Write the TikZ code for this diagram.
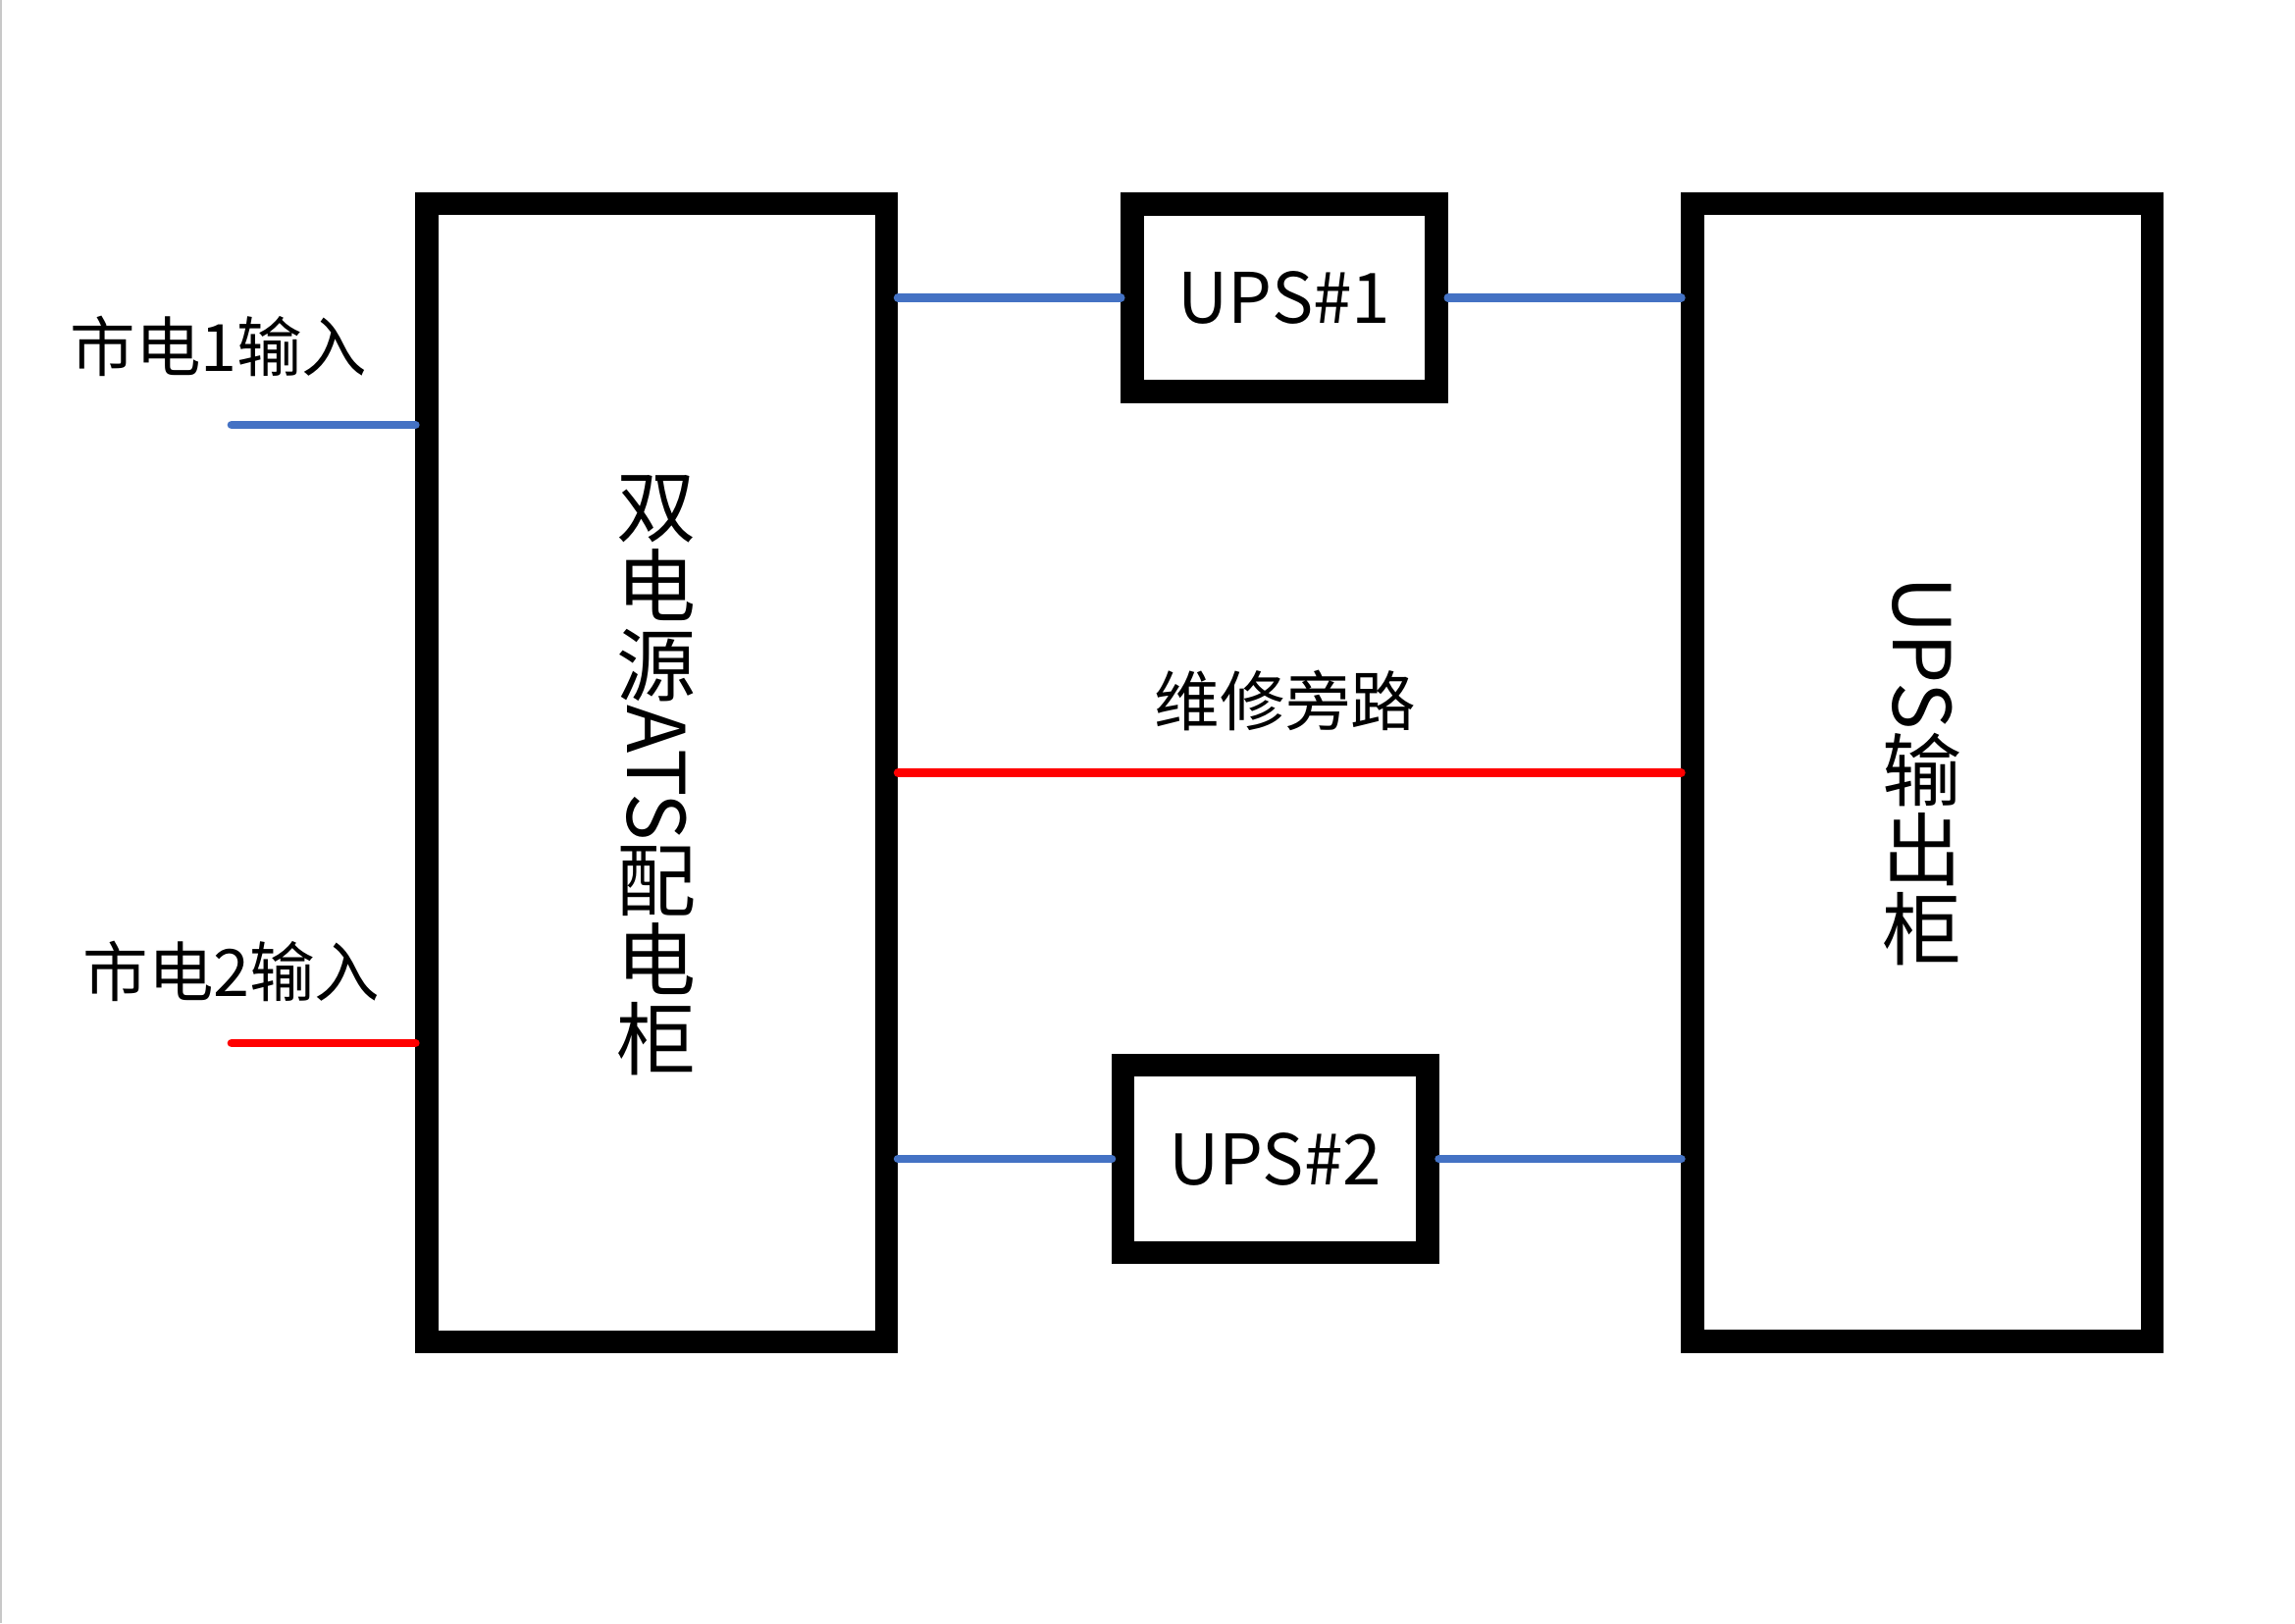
\documentclass[tikz,border=0pt]{standalone}
\usepackage{fontspec}
\usepackage{graphicx}
\setmainfont{Noto Sans CJK SC}
\definecolor{lineblue}{HTML}{4472C4}
\definecolor{linered}{HTML}{FF0000}
\definecolor{edgegray}{HTML}{C8C8C8}
\newcommand\vch[1]{\hbox to 1em{\hss\raisebox{0pt}[0.88em][0.12em]{#1}\hss}}
\newcommand\vlat[1]{\hbox to 1em{\hss\rotatebox{-90}{#1}\hss}}
\newcommand\vstk[1]{\vbox{\offinterlineskip #1}}
\tikzset{
  cabinet/.style={draw=black, line width=0.235cm, rectangle, inner sep=0pt,
    minimum width=4.68cm, minimum height=11.59cm,
    font=\fontsize{23.05}{23.05}\selectfont},
  upsbox/.style={draw=black, line width=0.235cm, rectangle, inner sep=0pt,
    minimum width=3.1cm, minimum height=1.91cm,
    font=\fontsize{20.2}{20.2}\selectfont},
  lbl/.style={inner sep=0pt, font=\fontsize{18.92}{18.92}\selectfont},
  bluewire/.style={draw=lineblue, line width=0.087cm, line cap=round},
  redwire/.style={draw=linered, line width=0.087cm, line cap=round}
}
\begin{document}
\begin{tikzpicture}[x=0.01cm,y=-0.01cm]
\fill[white] (0,0) rectangle (2339,1654);
\useasboundingbox (0,0) rectangle (2339,1654);
\draw[edgegray, line width=0.015cm] (1,0) -- (1,1654);

\node[cabinet] (ats) at (669.25,787.5)
  {\vstk{\vch{双}\vch{电}\vch{源}\vlat{ATS}\vch{配}\vch{电}\vch{柜}}};
\node[cabinet] (out) at (1959.25,787.25)
  {\vstk{\vlat{UPS}\vch{输}\vch{出}\vch{柜}}};
\node[upsbox] (ups1) at (1309,303.5) {UPS\#1};
\node[upsbox] (ups2) at (1299.75,1181) {UPS\#2};

\coordinate (in1) at (236,433);
\coordinate (in2) at (236,1063);

\node[lbl] (lin1) at (223,353) {市电1输入};
\node[lbl] (lin2) at (236,990) {市电2输入};
\node[lbl] (lbyp) at (1310,714) {维修旁路};

\draw[bluewire] (in1) -- (ats.west |- in1);
\draw[redwire] (in2) -- (ats.west |- in2);
\draw[bluewire] (ats.east |- ups1.west) -- (ups1.west);
\draw[bluewire] (ups1.east) -- (out.west |- ups1.east);
\draw[redwire] (ats.east) -- (ats.east -| out.west);
\draw[bluewire] (ats.east |- ups2.west) -- (ups2.west);
\draw[bluewire] (ups2.east) -- (out.west |- ups2.east);
\end{tikzpicture}
\end{document}
